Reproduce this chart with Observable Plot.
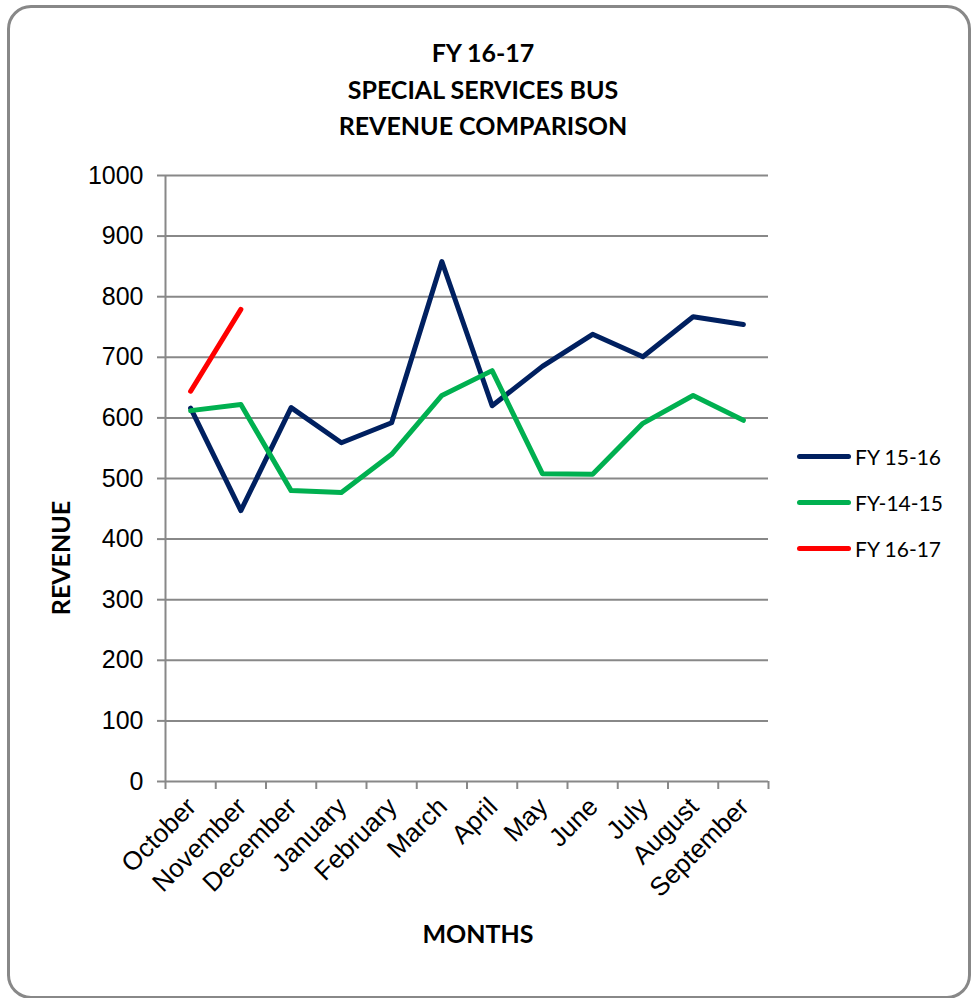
<!DOCTYPE html>
<html>
<head>
<meta charset="utf-8">
<script src="https://cdn.jsdelivr.net/npm/d3@7"></script>
<script src="https://cdn.jsdelivr.net/npm/@observablehq/plot@0.6"></script>
<style>
  html, body { margin: 0; padding: 0; background: #fff; }
  #frame { position: relative; width: 972px; height: 998px; overflow: hidden; }
  #border { position: absolute; left: 7px; top: 5px; width: 958px; height: 988px; border: 3px solid #888; border-radius: 24px; box-sizing: content-box; }
  .title { position: absolute; left: 0; width: 966px; text-align: center; font-family: Lato, "Open Sans", sans-serif; font-weight: bold; font-size: 25px; color: #000; line-height: 30px; }
  #ytitle { position: absolute; left: 60px; top: 558px; transform: translate(-50%, -50%) rotate(-90deg); font-family: Lato, sans-serif; font-weight: bold; font-size: 25px; white-space: nowrap; }
  #xtitle { position: absolute; left: 478px; top: 933px; transform: translate(-50%, -50%); font-family: Lato, sans-serif; font-weight: bold; font-size: 25px; }
  #chart { position: absolute; left: 0; top: 150px; }
  #legend { position: absolute; left: 797px; top: 433px; font-family: Lato, "Open Sans", sans-serif; font-size: 21px; }
  .item { display: flex; align-items: center; height: 46px; }
  .swatch { width: 54px; height: 5px; border-radius: 3px; margin-right: 4px; }
</style>
</head>
<body>
<div id="frame">
  <div id="border"></div>
  <div class="title" style="top:37px">FY 16-17</div>
  <div class="title" style="top:74px">SPECIAL SERVICES BUS</div>
  <div class="title" style="top:110px">REVENUE COMPARISON</div>
  <div id="ytitle">REVENUE</div>
  <div id="xtitle">MONTHS</div>
  <div id="chart"></div>
  <div id="legend"></div>
</div>
<script>
const months = ["October","November","December","January","February","March","April","May","June","July","August","September"];
const seriesNames = ["FY 15-16", "FY-14-15", "FY 16-17"];
const seriesColors = ["#002060", "#00B050", "#FF0000"];
const fy1516 = [616, 447, 617, 559, 592, 858, 620, 685, 738, 701, 767, 754];
const fy1415 = [612, 622, 480, 477, 540, 637, 678, 508, 507, 591, 637, 596];
const fy1617 = [644, 779];
const yTicks = [0,100,200,300,400,500,600,700,800,900,1000];

const toRows = (vals, name) => vals.map((v, i) => ({month: months[i], idx: i + 0.5, value: v, series: name}));
const rows = [
  ...toRows(fy1516, seriesNames[0]),
  ...toRows(fy1415, seriesNames[1]),
  ...toRows(fy1617, seriesNames[2])
];
const centers = months.map((m, i) => i + 0.5);
const bounds = d3.range(months.length + 1);

const plot = Plot.plot({
  width: 972,
  height: 800,
  marginTop: 25,
  marginBottom: 169,
  marginLeft: 165,
  marginRight: 204,
  style: {fontFamily: "'Liberation Sans', Arial, sans-serif", fontSize: "25px", color: "#000"},
  x: {domain: [0, months.length]},
  y: {domain: [0, 1000]},
  color: {domain: seriesNames, range: seriesColors},
  marks: [
    Plot.gridY(yTicks, {stroke: "#888", strokeOpacity: 1, strokeWidth: 2}),
    Plot.ruleX([0], {stroke: "#888", strokeWidth: 2}),
    Plot.axisY({ticks: yTicks, tickSize: 8, tickPadding: 14, tickFormat: d3.format("d"), stroke: "#888", strokeWidth: 2, label: null, fill: "#000"}),
    Plot.axisX({ticks: bounds, tickSize: 8, tickFormat: () => "", stroke: "#888", strokeWidth: 2, label: null}),
    Plot.axisX({ticks: centers, tickSize: 0, tickPadding: 21, tickRotate: -45, tickFormat: d => months[d - 0.5], label: null, fill: "#000", fontSize: 26, dx: 1}),
    Plot.line(rows, {x: "idx", y: "value", z: "series", stroke: "series", strokeWidth: 5, strokeLinejoin: "round", strokeLinecap: "round"})
  ]
});
document.getElementById("chart").appendChild(plot);

const legend = document.getElementById("legend");
seriesNames.forEach((n, i) => {
  const it = document.createElement("div");
  it.className = "item";
  it.innerHTML = `<div class="swatch" style="background:${seriesColors[i]}"></div><span>${n}</span>`;
  legend.appendChild(it);
});
</script>
</body>
</html>
